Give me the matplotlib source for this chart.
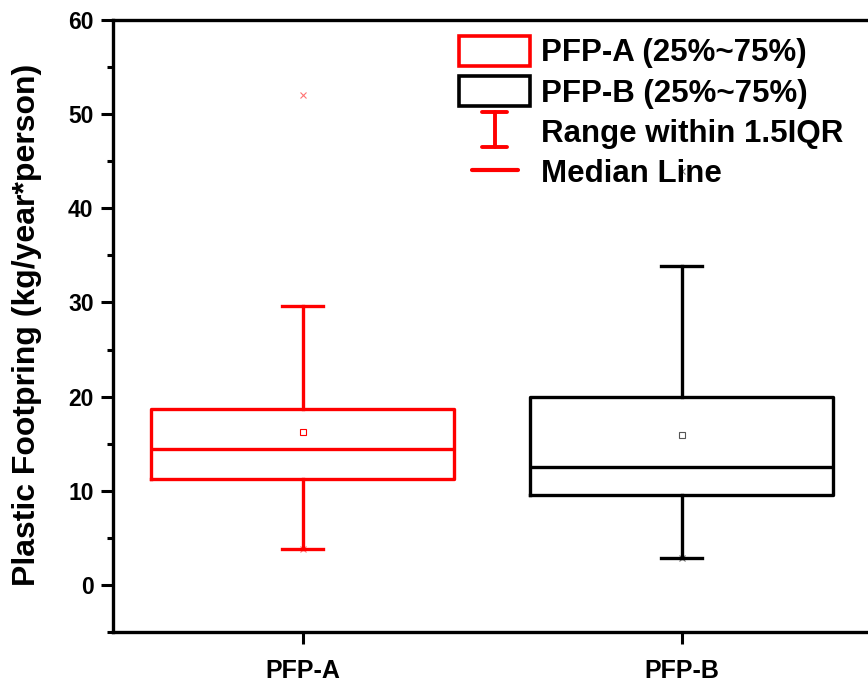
import matplotlib
matplotlib.use("Agg")
import matplotlib.pyplot as plt
from matplotlib.patches import Patch
from matplotlib.lines import Line2D
from matplotlib.legend_handler import HandlerBase
from matplotlib.ticker import MultipleLocator

plt.rcParams["font.family"] = ["Liberation Sans", "DejaVu Sans"]
plt.rcParams["font.weight"] = "bold"

# ── data ─────────────────────────────────────────────────────────────────────
groups   = ["PFP-A", "PFP-B"]
q1       = [11.2, 9.5]
median   = [14.4, 12.5]
q3       = [18.7, 20.0]
whis_lo  = [3.8, 2.9]
whis_hi  = [29.6, 33.9]
means    = [16.2, 15.9]
fliers   = [[52.0, 3.8], [44.0, 2.9]]
colors   = ["#ff0000", "#000000"]
mean_col = ["#ff0000", "#555555"]

stats = []
for i, g in enumerate(groups):
    stats.append({"label": g, "q1": q1[i], "med": median[i], "q3": q3[i],
                  "whislo": whis_lo[i], "whishi": whis_hi[i],
                  "mean": means[i], "fliers": fliers[i]})


class HandlerRange(HandlerBase):
    # draws the "I" shaped whisker symbol
    def create_artists(self, legend, orig_handle, xd, yd, w, h, fontsize, trans):
        cx = -xd + w / 2
        cy = (h - yd) / 2
        y0, y1 = cy - 0.58 * h, cy + 0.58 * h
        c = orig_handle.get_color()
        lw = orig_handle.get_linewidth()
        arts = [Line2D([cx, cx], [y0, y1], color=c, lw=lw),
                Line2D([cx - 0.17 * w, cx + 0.17 * w], [y0, y0], color=c, lw=lw),
                Line2D([cx - 0.17 * w, cx + 0.17 * w], [y1, y1], color=c, lw=lw)]
        for a in arts:
            a.set_transform(trans)
            a.set_solid_capstyle("round")
        return arts


class HandlerShortLine(HandlerBase):
    def create_artists(self, legend, orig_handle, xd, yd, w, h, fontsize, trans):
        cy = (h - yd) / 2
        ln = Line2D([-xd + 0.19 * w, -xd + 0.83 * w], [cy, cy],
                    color=orig_handle.get_color(), lw=orig_handle.get_linewidth())
        ln.set_transform(trans)
        ln.set_solid_capstyle("round")
        return [ln]


fig = plt.figure(figsize=(8.68, 6.84), dpi=100)
ax = fig.add_axes([0.1302, 0.076, 0.8698, 0.8947])

for i, s in enumerate(stats):
    c = colors[i]
    ax.bxp([s], positions=[i + 1], widths=0.8, showmeans=True, showfliers=True,
           boxprops=dict(color=c, lw=2.4),
           medianprops=dict(color=c, lw=2.4),
           whiskerprops=dict(color=c, lw=2.4),
           capprops=dict(color=c, lw=2.4),
           capwidths=0.11,
           meanprops=dict(marker="s", markersize=5, markerfacecolor="white",
                          markeredgecolor=mean_col[i], markeredgewidth=0.8),
           flierprops=dict(marker="x", markersize=5, markeredgecolor=colors[i],
                           markeredgewidth=0.8, alpha=0.55))

ax.set_xlim(0.5, 2.492)
ax.set_ylim(-5, 60)
ax.set_xticks([1, 2])
ax.set_xticklabels(groups, fontsize=18, fontweight="bold")
ax.yaxis.set_major_locator(MultipleLocator(10))
ax.yaxis.set_minor_locator(MultipleLocator(5))
ax.tick_params(axis="y", which="major", direction="out", length=9, width=2.2,
               labelsize=16.5, pad=5)
ax.tick_params(axis="y", which="minor", direction="out", length=4.5, width=2.2)
ax.tick_params(axis="x", which="major", direction="out", length=8.5, width=2.2, pad=11)
for lab in ax.get_yticklabels():
    lab.set_fontweight("bold")
ax.spines["right"].set_visible(False)
for sp in ["left", "bottom", "top"]:
    ax.spines[sp].set_linewidth(2.4)
ax.set_ylabel("Plastic Footpring (kg/year*person)", fontsize=23, fontweight="bold")
ax.yaxis.set_label_coords(-0.094, 0.502)

handles = [Patch(facecolor="white", edgecolor="#ff0000", lw=2.6),
           Patch(facecolor="white", edgecolor="#000000", lw=2.6),
           Line2D([], [], color="#ff0000", lw=2.8),
           Line2D([], [], color="#ff0000", lw=3.0)]
labels = ["PFP-A (25%~75%)", "PFP-B (25%~75%)", "Range within 1.5IQR", "Median Line"]
leg = ax.legend(handles, labels, loc="upper left", bbox_to_anchor=(0.437, 1.0),
                frameon=False, prop={"weight": "bold", "size": 22.5},
                handlelength=2.3, handleheight=1.12, handletextpad=0.33,
                labelspacing=0.24, borderaxespad=0.1,
                handler_map={handles[2]: HandlerRange(),
                             handles[3]: HandlerShortLine()})

fig.savefig("out.png", dpi=100)
